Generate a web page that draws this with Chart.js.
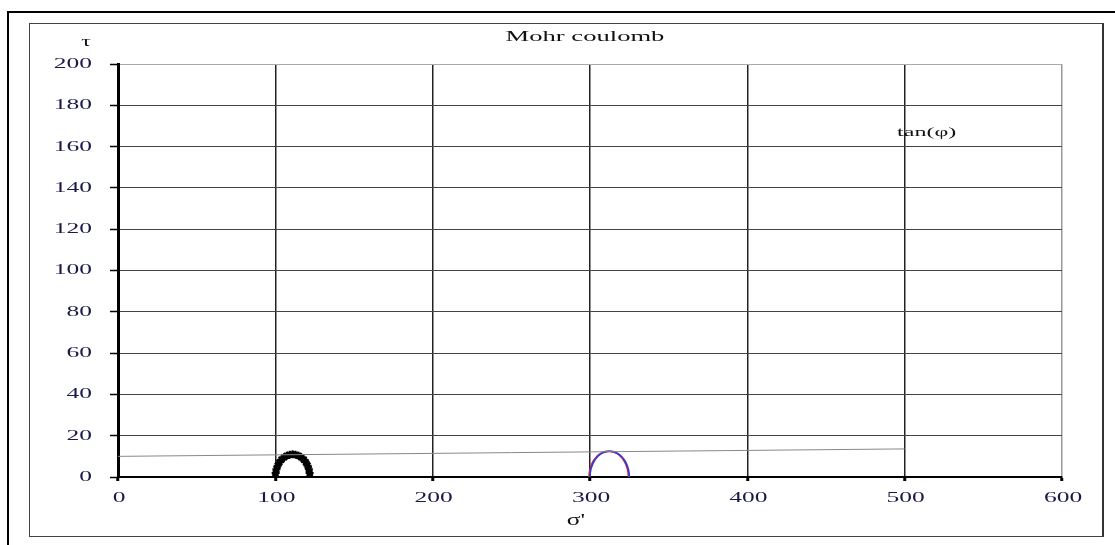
<!DOCTYPE html>
<html lang="en">
<head>
    <meta charset="UTF-8">
    <title>Mohr coulomb</title>
    <script src="https://cdn.jsdelivr.net/npm/chart.js"></script>
    <style>
        body { margin: 0; background: #fff; }
        #outer { position: absolute; left: 7px; top: 11px; width: 1120px; height: 560px;
                 border-left: 2px solid #000; border-top: 2px solid #000; }
        #frame { position: absolute; left: 29px; top: 23px; width: 1072px; height: 512px;
                 border: 1px solid #444; border-right: 2px solid #333; }
        #box { position: absolute; left: 30px; top: 24px; width: 1071px; height: 512px; }
    </style>
</head>
<body>
    <div id="outer"></div>
    <div id="frame"></div>
    <div id="box"><canvas id="mohr"></canvas></div>

    <script>
        // envelope line (tan phi)
        const envX = [0, 500];
        const envY = [10, 13.6];

        // first circle (black markers)
        const c1X = [122, 121.8, 121.3, 120.5, 119.4, 118.1, 116.5, 114.8, 112.9, 111, 109.1, 107.2, 105.5, 103.9, 102.6, 101.5, 100.7, 100.2, 100];
        const c1Y = [0, 1.9, 3.8, 5.5, 7.1, 8.4, 9.5, 10.3, 10.8, 11, 10.8, 10.3, 9.5, 8.4, 7.1, 5.5, 3.8, 1.9, 0];

        // second circle, blue series
        const c2X = [325, 324.8, 324.2, 323.3, 322.1, 320.5, 318.75, 316.8, 314.7, 312.5, 310.3, 308.2, 306.25, 304.5, 302.9, 301.7, 300.8, 300.2, 300];
        const c2Y = [0, 2.2, 4.3, 6.25, 8.0, 9.6, 10.8, 11.7, 12.3, 12.5, 12.3, 11.7, 10.8, 9.6, 8.0, 6.25, 4.3, 2.2, 0];

        // second circle, red series (slightly to the left)
        const c3X = [324.4, 324.2, 323.6, 322.7, 321.5, 319.9, 318.15, 316.2, 314.1, 311.9, 309.7, 307.6, 305.65, 303.9, 302.3, 301.1, 300.2, 299.6, 299.4];
        const c3Y = [0, 2.2, 4.3, 6.25, 8.0, 9.6, 10.8, 11.7, 12.3, 12.5, 12.3, 11.7, 10.8, 9.6, 8.0, 6.25, 4.3, 2.2, 0];

        const xTicks = [0, 100, 200, 300, 400, 500, 600];
        const yTicks = [0, 20, 40, 60, 80, 100, 120, 140, 160, 180, 200];

        const pts = (xs, ys) => xs.map((x, i) => ({ x: x, y: ys[i] }));
        const serif = '"Liberation Serif", "DejaVu Serif", serif';

        // the original text is drawn wide, so stretch it horizontally
        function wideText(c, str, x, y, size, align, color, stretch) {
            c.save();
            c.font = size + 'px ' + serif;
            c.fillStyle = color || '#111';
            c.textAlign = align;
            c.textBaseline = 'middle';
            c.translate(x, y);
            c.scale(stretch || 1.9, 1);
            c.fillText(str, 0, 0);
            c.restore();
        }

        // tick labels, title, axis names and the tan(phi) label
        const labels = {
            id: 'labels',
            afterDraw(chart) {
                const c = chart.ctx;
                const xs = chart.scales.x, ys = chart.scales.y;
                const area = chart.chartArea;
                yTicks.forEach(v => wideText(c, String(v), area.left - 26, ys.getPixelForValue(v), 15, 'right', '#1a1a48', 1.7));
                xTicks.forEach(v => wideText(c, String(v), xs.getPixelForValue(v) + 1, area.bottom + 21, 15, 'center', '#1a1a48', 1.7));
                wideText(c, 'Mohr coulomb', (area.left + area.right) / 2 - 5, 13, 14, 'center', '#111', 1.9);
                wideText(c, 'τ', 56, 18, 15, 'center', '#111', 1.6);
                wideText(c, 'σ\'', xs.getPixelForValue(291), area.bottom + 44, 17, 'center', '#111', 1.5);
                wideText(c, 'tan(φ)', xs.getPixelForValue(514), ys.getPixelForValue(167), 13, 'center', '#111', 1.85);
            }
        };

        const ctx = document.getElementById('mohr').getContext('2d');
        const mohrChart = new Chart(ctx, {
            type: 'scatter',
            data: {
                datasets: [
                    {
                        data: pts(envX, envY),
                        showLine: true,
                        borderColor: '#888',
                        borderWidth: 1,
                        pointRadius: 0
                    },
                    {
                        data: pts(c1X, c1Y),
                        showLine: true,
                        borderColor: '#000',
                        borderWidth: 3,
                        pointStyle: 'star',
                        pointRadius: 4,
                        pointBorderColor: '#000',
                        pointBorderWidth: 2,
                        pointBackgroundColor: '#000',
                        tension: 0.3
                    },
                    {
                        data: pts(c2X, c2Y),
                        showLine: true,
                        borderColor: '#2a3de0',
                        borderWidth: 1.6,
                        pointRadius: 0,
                        tension: 0.3
                    },
                    {
                        data: pts(c3X, c3Y),
                        showLine: true,
                        borderColor: '#e0202a',
                        borderWidth: 1.6,
                        pointRadius: 0,
                        tension: 0.3
                    }
                ]
            },
            options: {
                responsive: true,
                maintainAspectRatio: false,
                animation: false,
                layout: { padding: { left: 0, top: 40, right: 39, bottom: 0 } },
                plugins: {
                    legend: { display: false },
                    tooltip: { enabled: false }
                },
                scales: {
                    x: {
                        type: 'linear',
                        min: 0,
                        max: 600,
                        afterBuildTicks: s => { s.ticks = xTicks.map(v => ({ value: v })); },
                        afterFit: s => { s.height = 59; },
                        border: { color: '#000', width: 2 },
                        grid: {
                            color: c => c.tick && c.tick.value === 600 ? '#999' : (c.tick && c.tick.value === 0 ? 'rgba(0,0,0,0)' : '#222'),
                            lineWidth: 1.5,
                            tickLength: 4,
                            tickColor: '#000',
                            tickWidth: 3
                        },
                        ticks: { display: false }
                    },
                    y: {
                        type: 'linear',
                        min: 0,
                        max: 200,
                        afterBuildTicks: s => { s.ticks = yTicks.map(v => ({ value: v })); },
                        afterFit: s => { s.width = 88; },
                        border: { color: '#000', width: 3 },
                        grid: {
                            color: c => c.tick && c.tick.value === 200 ? '#aaa' : '#444',
                            lineWidth: 1,
                            tickLength: 8,
                            tickColor: '#000',
                            tickWidth: 1.5
                        },
                        ticks: { display: false }
                    }
                }
            },
            plugins: [labels]
        });
    </script>
</body>
</html>
